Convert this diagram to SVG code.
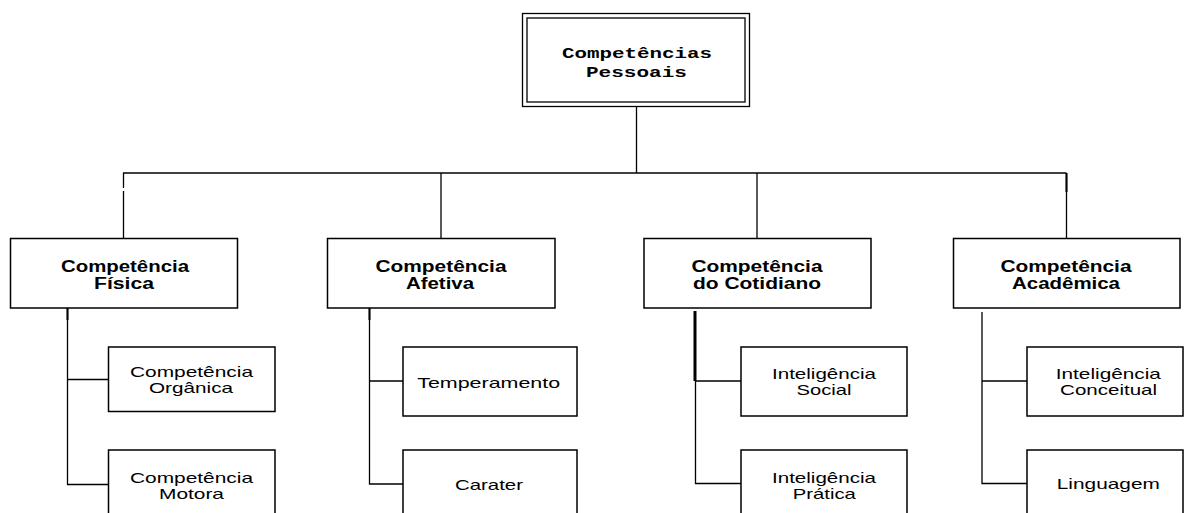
<svg xmlns="http://www.w3.org/2000/svg" width="1186" height="513" viewBox="0 0 1186 513">
  <style>
    .box { fill: #ffffff; stroke: #000000; stroke-width: 1.5; }
    .wire { fill: none; stroke: #000000; stroke-width: 1.3; }
    .thick { fill: none; stroke: #000000; stroke-width: 3; }
    .root { font-family: "Liberation Mono", "Courier New", monospace; font-size: 15px; font-weight: bold; fill: #000; text-anchor: middle; }
    .head { font-family: "Liberation Sans", Arial, sans-serif; font-size: 16px; font-weight: bold; fill: #000; text-anchor: middle; }
    .leaf { font-family: "Liberation Sans", Arial, sans-serif; font-size: 14.5px; fill: #000; text-anchor: middle; }
  </style>
  <rect width="1186" height="513" fill="#ffffff"/>

  <!-- connectors -->
  <g id="connectors">
    <!-- root down to the bus -->
    <line class="wire" x1="636.5" y1="106" x2="636.5" y2="173"/>
    <!-- horizontal bus -->
    <line class="wire" x1="123" y1="173" x2="1066.5" y2="173"/>
    <!-- bus to first-level boxes -->
    <line class="wire" x1="123.5" y1="173" x2="123.5" y2="188"/>
    <line class="wire" x1="123.5" y1="191" x2="123.5" y2="238"/>
    <line class="wire" x1="441" y1="173" x2="441" y2="238"/>
    <line class="wire" x1="757" y1="173" x2="757" y2="238"/>
    <line class="wire" x1="1066.5" y1="173" x2="1066.5" y2="238"/>
    <line class="thick" x1="1066.5" y1="173" x2="1066.5" y2="192" style="stroke-width:2"/>

    <!-- Competência Física branch -->
    <path class="wire" d="M67.5 308 V484.5 H108 M67.5 379.5 H108"/>
    <line class="thick" x1="67.5" y1="308" x2="67.5" y2="320" style="stroke-width:2"/>
    <!-- Competência Afetiva branch -->
    <path class="wire" d="M369.5 308 V484 H403 M369.5 381 H403"/>
    <line class="thick" x1="369.5" y1="308" x2="369.5" y2="320" style="stroke-width:2"/>
    <!-- Competência do Cotidiano branch -->
    <line class="thick" x1="695" y1="311" x2="695" y2="381"/>
    <path class="wire" d="M695.5 381 V483.5 H741 M695.5 381 H741"/>
    <!-- Competência Acadêmica branch -->
    <path class="wire" d="M982 312 V483.5 H1027 M982 381 H1027"/>
  </g>

  <!-- root node -->
  <g id="competencias-pessoais">
    <rect class="box" x="522.5" y="13.5" width="227" height="93" style="stroke-width:1.3"/>
    <rect class="box" x="527" y="18" width="218" height="84" style="stroke-width:1.3"/>
    <text class="root" x="637" y="57.5" textLength="150" lengthAdjust="spacingAndGlyphs">Competências</text>
    <text class="root" x="636.5" y="76.5" textLength="101" lengthAdjust="spacingAndGlyphs">Pessoais</text>
  </g>

  <!-- first level -->
  <g id="competencia-fisica">
    <rect class="box" x="10.5" y="238.5" width="227" height="69.5"/>
    <text class="head" x="125" y="272" textLength="128" lengthAdjust="spacingAndGlyphs">Competência</text>
    <text class="head" x="124" y="288.5" textLength="60" lengthAdjust="spacingAndGlyphs">Física</text>
  </g>
  <g id="competencia-afetiva">
    <rect class="box" x="327.5" y="238.5" width="227.5" height="69.5"/>
    <text class="head" x="441" y="272" textLength="131" lengthAdjust="spacingAndGlyphs">Competência</text>
    <text class="head" x="440" y="288.5" textLength="68" lengthAdjust="spacingAndGlyphs">Afetiva</text>
  </g>
  <g id="competencia-cotidiano">
    <rect class="box" x="644" y="238.5" width="227" height="69.5"/>
    <text class="head" x="757" y="272" textLength="131" lengthAdjust="spacingAndGlyphs">Competência</text>
    <text class="head" x="757" y="288.5" textLength="128" lengthAdjust="spacingAndGlyphs">do Cotidiano</text>
  </g>
  <g id="competencia-academica">
    <rect class="box" x="953.5" y="238.5" width="226.5" height="69.5"/>
    <text class="head" x="1066" y="272" textLength="131" lengthAdjust="spacingAndGlyphs">Competência</text>
    <text class="head" x="1066" y="288.5" textLength="108" lengthAdjust="spacingAndGlyphs">Acadêmica</text>
  </g>

  <!-- second level -->
  <g id="competencia-organica">
    <rect class="box" x="108.5" y="347" width="166.5" height="64.5"/>
    <text class="leaf" x="191.5" y="376.5" textLength="123" lengthAdjust="spacingAndGlyphs">Competência</text>
    <text class="leaf" x="191" y="393" textLength="84" lengthAdjust="spacingAndGlyphs">Orgânica</text>
  </g>
  <g id="competencia-motora">
    <rect class="box" x="108.5" y="450" width="166.5" height="80"/>
    <text class="leaf" x="191.5" y="482.5" textLength="123" lengthAdjust="spacingAndGlyphs">Competência</text>
    <text class="leaf" x="191.5" y="498.5" textLength="65" lengthAdjust="spacingAndGlyphs">Motora</text>
  </g>
  <g id="temperamento">
    <rect class="box" x="403" y="347" width="174" height="69"/>
    <text class="leaf" x="488.7" y="388" textLength="143" lengthAdjust="spacingAndGlyphs">Temperamento</text>
  </g>
  <g id="carater">
    <rect class="box" x="403" y="450" width="174" height="80"/>
    <text class="leaf" x="489" y="490" textLength="68" lengthAdjust="spacingAndGlyphs">Carater</text>
  </g>
  <g id="inteligencia-social">
    <rect class="box" x="741" y="347" width="166" height="69"/>
    <text class="leaf" x="824" y="379" textLength="104" lengthAdjust="spacingAndGlyphs">Inteligência</text>
    <text class="leaf" x="824" y="395" textLength="55" lengthAdjust="spacingAndGlyphs">Social</text>
  </g>
  <g id="inteligencia-pratica">
    <rect class="box" x="741" y="450" width="166" height="80"/>
    <text class="leaf" x="824" y="482.5" textLength="104" lengthAdjust="spacingAndGlyphs">Inteligência</text>
    <text class="leaf" x="824.3" y="498.5" textLength="63" lengthAdjust="spacingAndGlyphs">Prática</text>
  </g>
  <g id="inteligencia-conceitual">
    <rect class="box" x="1027" y="347" width="156" height="69"/>
    <text class="leaf" x="1108.3" y="379" textLength="105" lengthAdjust="spacingAndGlyphs">Inteligência</text>
    <text class="leaf" x="1108.6" y="395" textLength="97" lengthAdjust="spacingAndGlyphs">Conceitual</text>
  </g>
  <g id="linguagem">
    <rect class="box" x="1027" y="450" width="156" height="80"/>
    <text class="leaf" x="1108.3" y="489" textLength="103" lengthAdjust="spacingAndGlyphs">Linguagem</text>
  </g>
</svg>
